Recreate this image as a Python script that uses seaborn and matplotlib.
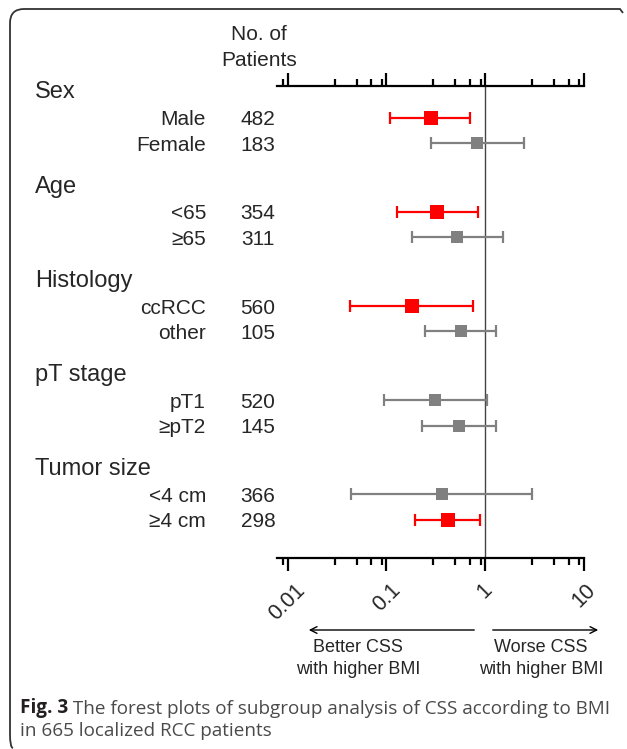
import numpy as np
import pandas as pd
import matplotlib.pyplot as plt
import matplotlib.transforms as mtransforms
from matplotlib.path import Path
from matplotlib.patches import PathPatch
import seaborn as sns

# subgroup data (hazard ratio with 95% CI)
groups = ['Sex', 'Age', 'Histology', 'pT stage', 'Tumor size']
labels = ['Male', 'Female', '<65', '≥65', 'ccRCC', 'other',
          'pT1', '≥pT2', '<4 cm', '≥4 cm']
patients = [482, 183, 354, 311, 560, 105, 520, 145, 366, 298]
hr = [0.28, 0.82, 0.325, 0.52, 0.18, 0.57, 0.31, 0.54, 0.365, 0.42]
ci_low = [0.11, 0.28, 0.128, 0.18, 0.043, 0.248, 0.095, 0.229, 0.044, 0.196]
ci_high = [0.70, 2.49, 0.84, 1.5, 0.75, 1.29, 1.05, 1.29, 2.98, 0.89]
xticks = [0.01, 0.1, 1, 10]
xtick_labels = ['0.01', '0.1', '1', '10']
minor_ticks = [0.009, 0.03, 0.05, 0.07, 0.09, 0.3, 0.5, 0.7, 0.9, 3, 5, 7, 9]

sns.set_style('white')
plt.rcParams['font.family'] = ['Liberation Sans', 'DejaVu Sans']

W, H = 627, 749
fig = plt.figure(figsize=(W / 100, H / 100), dpi=100)

# layout: row positions in "row units" (one unit ~ 26 px)
group_step = 3.62
header_y = [0.15 + i * group_step for i in range(len(groups))]
row_y = []
for hy in header_y:
    row_y += [hy + 1.07, hy + 2.05]

df = pd.DataFrame({'label': labels, 'n': patients, 'hr': hr,
                   'lo': ci_low, 'hi': ci_high, 'y': row_y})
df['sig'] = np.where(df['hi'] < 1, 'sig', 'ns')
palette = {'sig': '#FF0000', 'ns': '#808080'}

ax = fig.add_axes([277.4 / W, 1 - 558 / H, (584 - 277.4) / W, (558 - 86) / H])
ax.set_xscale('log')
ax.set_xlim(0.0079, 10)
ax.set_ylim(18.15, 0)

ax.axvline(1, color='#444444', lw=1.0, zorder=1)

for _, r in df.iterrows():
    ax.errorbar(r['hr'], r['y'], xerr=[[r['hr'] - r['lo']], [r['hi'] - r['hr']]],
                fmt='none', ecolor=palette[r['sig']], elinewidth=1.6,
                capsize=4, capthick=1.6, zorder=2)

sizes = {'sig': 95, 'ns': 75}
for key, sub in df.groupby('sig'):
    sns.scatterplot(data=sub, x='hr', y='y', marker='s', color=palette[key],
                    s=sizes[key], edgecolor=palette[key], linewidth=0,
                    ax=ax, zorder=3, legend=False)

ax.set_xlabel('')
ax.set_ylabel('')
ax.set_yticks([])
for side in ['left', 'right']:
    ax.spines[side].set_visible(False)
for side in ['top', 'bottom']:
    ax.spines[side].set_visible(True)
    ax.spines[side].set_linewidth(1.6)
    ax.spines[side].set_color('black')

ax.set_xticks(xticks)
ax.set_xticklabels(xtick_labels, rotation=45, ha='center', va='top', fontsize=15.5)
ax.set_xticks(minor_ticks, minor=True)
ax.xaxis.set_minor_formatter(plt.NullFormatter())
ax.tick_params(axis='x', which='both', direction='out', top=True, bottom=True,
               labeltop=False, color='black', width=1.6)
ax.tick_params(axis='x', which='major', length=9.5, pad=6)
ax.tick_params(axis='x', which='minor', length=5)

# text columns (x in figure px, y in row units)
trans = mtransforms.blended_transform_factory(fig.transFigure, ax.transData)
for g, hy in zip(groups, header_y):
    ax.text(35 / W, hy, g, transform=trans, fontsize=17, ha='left',
            va='center_baseline')
for _, r in df.iterrows():
    ax.text(206 / W, r['y'], r['label'], transform=trans, fontsize=15,
            ha='right', va='center_baseline')
    ax.text(258 / W, r['y'], str(r['n']), transform=trans, fontsize=15,
            ha='center', va='center_baseline')

fig.text(259 / W, 1 - 33 / H, 'No. of', fontsize=15, ha='center', va='center_baseline')
fig.text(259 / W, 1 - 58 / H, 'Patients', fontsize=15, ha='center', va='center_baseline')

# direction arrows
arrow_y = 1 - 630 / H
fig.add_artist(plt.Annotation('', xy=(306 / W, arrow_y), xytext=(477 / W, arrow_y),
                              xycoords='figure fraction', textcoords='figure fraction',
                              arrowprops=dict(arrowstyle='->', lw=1.0, color='black',
                                              mutation_scale=12)))
fig.add_artist(plt.Annotation('', xy=(601 / W, arrow_y), xytext=(490 / W, arrow_y),
                              xycoords='figure fraction', textcoords='figure fraction',
                              arrowprops=dict(arrowstyle='->', lw=1.0, color='black',
                                              mutation_scale=12)))
fig.text(358 / W, 1 - 646 / H, 'Better CSS', fontsize=13, ha='center', va='center_baseline')
fig.text(358 / W, 1 - 667 / H, 'with higher BMI', fontsize=13, ha='center', va='center_baseline')
fig.text(541 / W, 1 - 646 / H, 'Worse CSS', fontsize=13, ha='center', va='center_baseline')
fig.text(541 / W, 1 - 667 / H, 'with higher BMI', fontsize=13, ha='center', va='center_baseline')

# caption
cap_font = ['Open Sans', 'DejaVu Sans']
t1 = fig.text(20 / W, 1 - 706 / H, 'Fig. 3', fontsize=13.6, fontweight='bold',
              family=cap_font, color='#231f20', ha='left', va='center_baseline')
fig.add_artist(plt.Annotation(' The forest plots of subgroup analysis of CSS according to BMI',
                              xy=(1, 0), xycoords=t1, va='bottom', ha='left',
                              fontsize=13.6, family=cap_font, color='#4a4a4a'))
fig.text(20 / W, 1 - 729 / H, 'in 665 localized RCC patients', fontsize=13.6,
         family=cap_font, color='#4a4a4a', ha='left', va='center_baseline')

# bracket-like frame (top + left edge, rounded corners)
x0, y0, x1, y1, rad = 10, 9, 623, 748, 14
verts = [(x1, y0 + 4), (x1 - 3, y0), (x0 + rad, y0), (x0, y0), (x0, y0 + rad),
         (x0, y1 - rad), (x0, y1), (x0 + 3, y1)]
codes = [Path.MOVETO, Path.LINETO, Path.LINETO, Path.CURVE3, Path.CURVE3,
         Path.LINETO, Path.CURVE3, Path.CURVE3]
verts = [(vx / W, 1 - vy / H) for vx, vy in verts]
fig.add_artist(PathPatch(Path(verts, codes), transform=fig.transFigure,
                         fill=False, lw=1.3, edgecolor='#333333'))

fig.savefig('out.png', dpi=100)
